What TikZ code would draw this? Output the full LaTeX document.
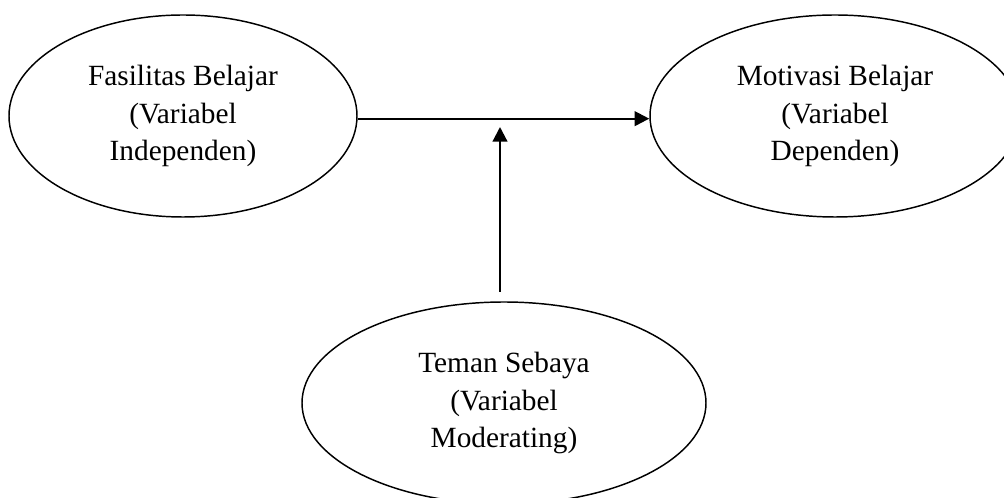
\documentclass[tikz,border=0pt]{standalone}
\usepackage{fontspec}
\setmainfont{Liberation Serif}
\usetikzlibrary{shapes.geometric,arrows.meta,calc}
\tikzset{var/.style={ellipse, draw, line width=1.1pt, inner sep=0pt, align=center, font=\fontsize{22}{28}\selectfont}}
\tikzset{link/.style={black,line width=1.6pt,-{Triangle[length=11pt,width=11pt]}}}

\begin{document}
\begin{tikzpicture}[x=0.75pt,y=0.75pt]
   \useasboundingbox (0,0) rectangle (1004,-498);
   \clip (0,0) rectangle (1004,-498);
   \node[var, minimum width=261pt, minimum height=151.5pt] (fas) at (183,-116) {Fasilitas Belajar\\(Variabel\\Independen)};
   \node[var, minimum width=277.5pt, minimum height=151.5pt] (mot) at (835,-116) {Motivasi Belajar\\(Variabel\\Dependen)};
   \node[var, minimum width=303pt, minimum height=151.5pt] (tem) at (504,-403) {Teman Sebaya\\(Variabel\\Moderating)};
   \coordinate (tip) at (500,-127);
   \draw[link] ([yshift=-2pt]fas.east) -- ([yshift=-2pt]mot.west);
   \draw[link, shorten <=7pt] (tem.north -| tip) -- (tip);
  \end{tikzpicture}
\end{document}
